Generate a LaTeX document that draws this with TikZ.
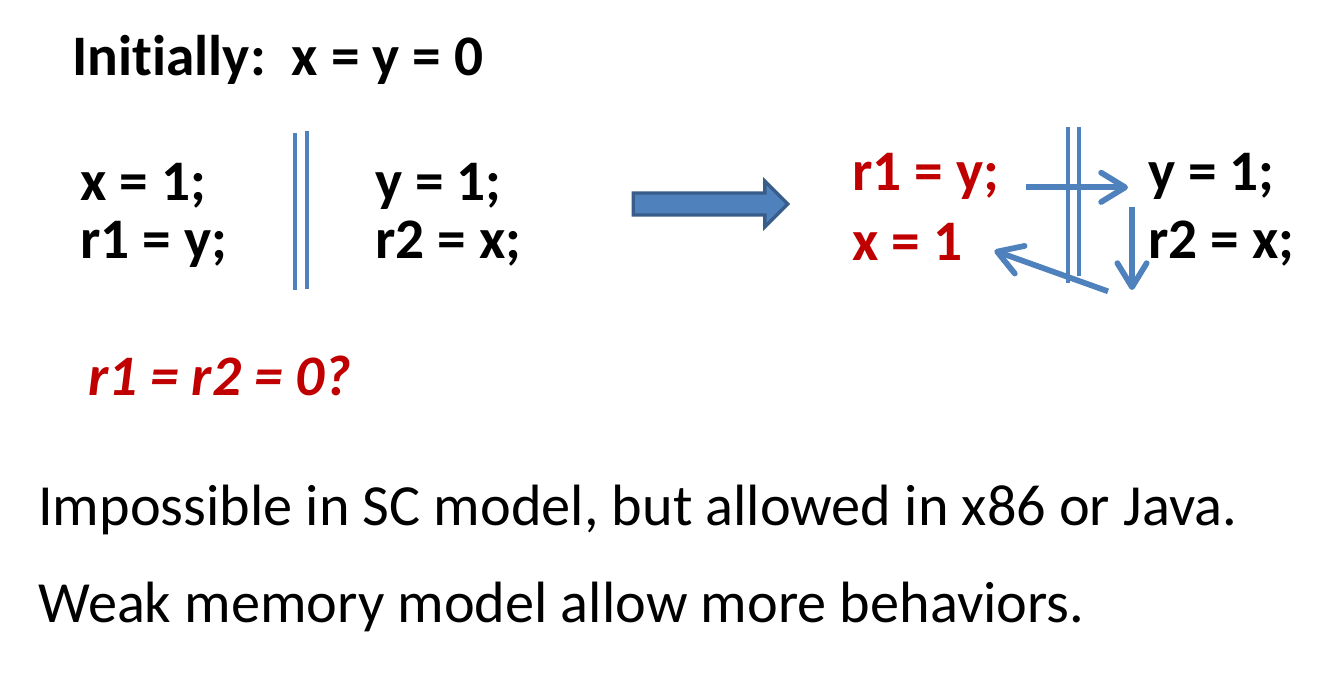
\documentclass[tikz,border=0pt]{standalone}
\usepackage{fontspec}
\setmainfont{Carlito}[Ligatures=NoCommon]
\usepackage{tikz}
\usetikzlibrary{shapes,arrows.meta}
\definecolor{slideblue}{HTML}{4F81BD}
\definecolor{slidedark}{HTML}{385D8A}
\definecolor{slidered}{HTML}{C00000}
\tikzstyle{code} = [anchor=base west, inner sep=0pt, font=\fontsize{43}{50}\selectfont\bfseries]
\tikzstyle{redcode} = [code, text=slidered]
\tikzstyle{plain} = [anchor=base west, inner sep=0pt, font=\fontsize{43.7}{52}\selectfont]
\tikzstyle{bar} = [draw=slideblue, line width=3pt]
\tikzstyle{bigarrow} = [single arrow, draw=slidedark, fill=slideblue, line width=2.5pt, 
inner sep=7pt, single arrow head extend=9pt, minimum height=116pt]
\tikzstyle{line} = [draw=slideblue, line width=4.3pt, -{Straight Barb[length=18pt,width=22pt,round]}]

\begin{document}
\begin{tikzpicture}[x=0.75pt, y=-0.75pt]
		\useasboundingbox (0,0) rectangle (1331,675);
		\node [code] (init) at (72,75) {Initially:\ \ x = y = 0};
		
		\node [code] (xa) at (80,200) {x = 1;};
		\node [code] (ra) at (80,258) {r1 = y;};
		\node [code] (yb) at (375,200) {y = 1;};
		\node [code] (rb) at (375,258) {r2 = x;};
		\draw [bar] (295,133) -- (295,290);
		\draw [bar] (307,131) -- (307,289);
		
		\node [bigarrow] (step) at (705,204) {};
		
		\node [redcode] (rra) at (852,190) {r1 = y;};
		\node [redcode] (xxa) at (852,260) {x = 1};
		\node [code] (yyb) at (1148,190) {y = 1;};
		\node [code] (rrb) at (1148,258) {r2 = x;};
		\draw [bar] (1068,127) -- (1068,283);
		\draw [bar] (1079,127) -- (1079,276);
		
		\path [line] ([xshift=20pt,yshift=2pt]rra.base east) -- ([xshift=-15pt,yshift=2pt]yyb.base west);
		\path [line] ([xshift=-12pt,yshift=-13pt]yyb.base west) -- ([xshift=-12pt,yshift=-24pt]rrb.base west);
		\path [line] ([xshift=-30pt,yshift=-25pt]rrb.base west) -- ([xshift=24pt,yshift=7pt]xxa.base east);
		
		\node [redcode, font=\fontsize{43}{50}\selectfont\bfseries\itshape] (ask) at (88,395) {r1 = r2 = 0?};
		
		\node [plain] (sc) at (38,525) {Impossible in SC model, but allowed in x86 or Java.};
		\node [plain] (weak) at (38,622) {Weak memory model allow more behaviors.};
\end{tikzpicture}
\end{document}
